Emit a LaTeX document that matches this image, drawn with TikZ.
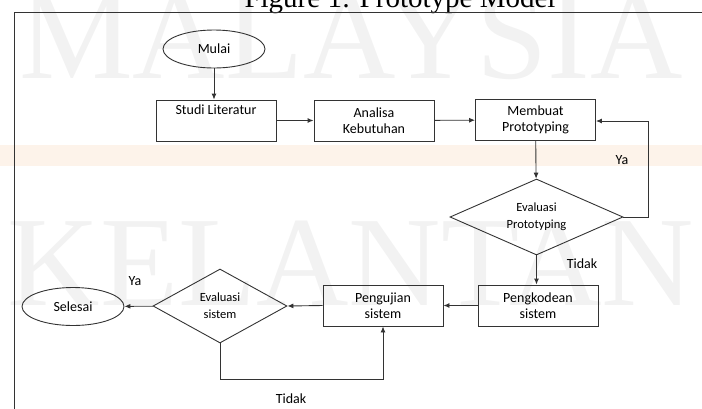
\documentclass[tikz,border=0pt]{standalone}
\usepackage{fontspec}
\setmainfont{Carlito}
\newfontfamily\timesfont{Liberation Serif}
\usetikzlibrary{positioning, arrows.meta, shapes.geometric, calc}
\definecolor{lineGray}{gray}{0.2}
\definecolor{wmGray}{gray}{0.95}
\definecolor{wmPeach}{RGB}{253,243,234}
\tikzset{
    pmterm/.style={draw=lineGray, line width=0.9pt, ellipse, minimum width=102pt, minimum height=38pt, inner sep=0pt, align=center, font=\fontsize{14}{16}\selectfont},
    pmproc/.style={draw=lineGray, line width=0.9pt, rectangle, minimum width=120pt, minimum height=41pt, inner sep=0pt, align=center, font=\fontsize{14}{16}\selectfont},
    pmdec/.style={draw=lineGray, line width=0.9pt, diamond, aspect=2.3, inner sep=0pt, align=center, font=\fontsize{12.5}{17}\selectfont},
    pmarrow/.style={-{Latex[length=6pt,width=5pt]}, draw=lineGray, line width=0.9pt},
    pmlbl/.style={font=\fontsize{14}{16}\selectfont, inner sep=0pt},
    wmark/.style={font=\timesfont\fontsize{128}{128}\selectfont, text=wmGray, anchor=base, inner sep=0pt},
}

\begin{document}
\begin{tikzpicture}[x=1pt, y=-1pt]
    \useasboundingbox (0,0) rectangle (702,408);
    \clip (0,0) rectangle (702,408);
    % Latar (tanda air)
    \fill[wmPeach] (0,145) rectangle (702,166);
    \node[wmark] (wmTop) at (351,78)  {MALAYSIA};
    \node[wmark] (wmBot) at (351,305) {KELANTAN};
    % Judul dan bingkai
    \node[font=\timesfont\fontsize{29}{29}\selectfont, anchor=base, inner sep=0pt] (judul) at (400,7) {Figure 1: Prototype Model};
    \draw[lineGray, line width=1pt] (14,12.7) rectangle (720,420);
    % Tahapan
    \node[pmterm] (mulai) at (214,49)    {Mulai};
    \node[pmproc] (SL)    at (216,120.5) {Studi Literatur\\ \strut};
    \node[pmproc] (AK)    at (374,120.5) {Analisa\\ Kebutuhan};
    \node[pmproc] (MP)    at (535.5,120) {Membuat\\ Prototyping};
    \node[pmdec, minimum width=173pt, minimum height=76pt] (EP) at (536.5,217) {Evaluasi\\ Prototyping};
    \node[pmproc] (PK)    at (538,305.5) {Pengkodean\\ sistem};
    \node[pmproc] (PU)    at (383,305.5) {Pengujian\\ sistem};
    \node[pmdec, minimum width=134pt, minimum height=74pt] (ES) at (220,306) {Evaluasi\\ sistem};
    \node[pmterm] (selesai) at (73,306.5) {Selesai};
    % Alur utama
    \draw[pmarrow] (mulai.south) -- (mulai.south |- SL.north);
    \draw[pmarrow] (SL) -- (AK);
    \draw[pmarrow] (AK) -- (MP);
    \draw[pmarrow] (MP) -- (EP);
    \draw[pmarrow] (EP.south) -- (EP.south |- PK.north);
    \draw[pmarrow] (PK) -- (PU);
    \draw[pmarrow] (PU.west) -- (ES.east);
    \draw[pmarrow] (ES) -- (selesai);
    % Umpan balik
    \coordinate (yaP) at (648,121);
    \draw[pmarrow] (EP.east) -| (yaP) -- (MP.east |- yaP);
    \draw[pmarrow] (ES.south) |- ($(PU.south)+(0,53)$) -- (PU.south);
    % Label
    \node[pmlbl] (ya1)  at (622,160) {Ya};
    \node[pmlbl] (tdk1) at (582,264) {Tidak};
    \node[pmlbl] (ya2)  at (135,281) {Ya};
    \node[pmlbl] (tdk2) at (291,399) {Tidak};
\end{tikzpicture}
\end{document}
